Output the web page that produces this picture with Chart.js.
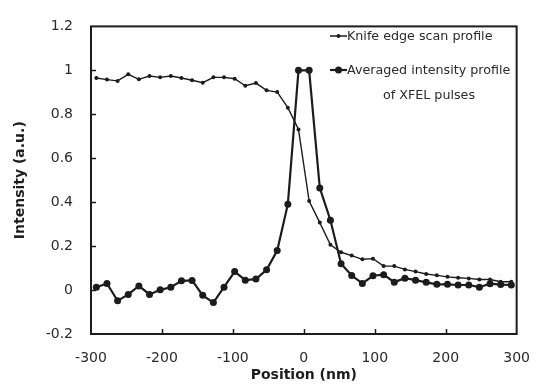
<!DOCTYPE html>
<html>
<head>
<meta charset="utf-8">
<script src="https://cdn.jsdelivr.net/npm/chart.js@4/dist/chart.umd.min.js"></script>
<style>
  html, body { margin: 0; padding: 0; background: #fff; }
  #wrap { width: 546px; height: 387px; }
</style>
</head>
<body>
<div id="wrap"><canvas id="chart" width="546" height="387"></canvas></div>
<script>
// positions (nm), shared by both series
let positions = [-292.5, -277.5, -262.5, -247.5, -232.5, -217.5, -202.5, -187.5, -172.5, -157.5,
  -142.5, -127.5, -112.5, -97.5, -82.5, -67.5, -52.5, -37.5, -22.5, -7.5,
  7.5, 22.5, 37.5, 52.5, 67.5, 82.5, 97.5, 112.5, 127.5, 142.5,
  157.5, 172.5, 187.5, 202.5, 217.5, 232.5, 247.5, 262.5, 277.5, 292.5];

let knifeEdge = [0.965, 0.958, 0.952, 0.982, 0.959, 0.974, 0.968, 0.974, 0.965, 0.955,
  0.944, 0.968, 0.968, 0.962, 0.930, 0.942, 0.909, 0.901, 0.830, 0.731,
  0.405, 0.307, 0.206, 0.172, 0.157, 0.140, 0.143, 0.109, 0.109, 0.094,
  0.084, 0.073, 0.067, 0.060, 0.056, 0.053, 0.048, 0.048, 0.038, 0.038];

let xfelProfile = [0.013, 0.030, -0.049, -0.020, 0.019, -0.020, 0.001, 0.013, 0.042, 0.044,
  -0.024, -0.057, 0.013, 0.084, 0.045, 0.050, 0.092, 0.180, 0.391, 1.0,
  1.0, 0.465, 0.318, 0.120, 0.066, 0.030, 0.065, 0.070, 0.036, 0.054,
  0.045, 0.035, 0.026, 0.026, 0.023, 0.023, 0.013, 0.029, 0.025, 0.023];

let xTicks = [-300, -200, -100, 0, 100, 200, 300];
let yTicks = [-0.2, 0, 0.2, 0.4, 0.6, 0.8, 1, 1.2];
let yTickLabels = ["-0.2", "0", "0.2", "0.4", "0.6", "0.8", "1", "1.2"];

const ink = "#1c1c1c";
const textColor = "#2a2a2a";

function toPoints(xs, ys) {
  let pts = [];
  for (let i = 0; i < xs.length; i++) {
    pts.push({x: xs[i], y: ys[i]});
  }
  return pts;
}

// frame + inward tick marks
const framePlugin = {
  id: "frame",
  afterDatasetsDraw(chart) {
    const ctx = chart.ctx;
    const a = chart.chartArea;
    const xs = chart.scales.x;
    const ys = chart.scales.y;
    ctx.save();
    ctx.strokeStyle = ink;
    ctx.lineWidth = 2;
    ctx.strokeRect(a.left, a.top, a.right - a.left, a.bottom - a.top);
    ctx.lineWidth = 1.5;
    ctx.beginPath();
    for (let i = 1; i < xTicks.length - 1; i++) {
      let px = Math.round(xs.getPixelForValue(xTicks[i])) + 0.5;
      ctx.moveTo(px, a.bottom);
      ctx.lineTo(px, a.bottom - 5);
    }
    for (let i = 1; i < yTicks.length - 1; i++) {
      let py = Math.round(ys.getPixelForValue(yTicks[i])) + 0.5;
      ctx.moveTo(a.left, py);
      ctx.lineTo(a.left + 5, py);
    }
    ctx.stroke();
    ctx.restore();
  }
};

// legend drawn inside the plot, upper right
const legendPlugin = {
  id: "insideLegend",
  afterDraw(chart) {
    const ctx = chart.ctx;
    ctx.save();
    ctx.font = "12.7px 'DejaVu Sans', Verdana, sans-serif";
    ctx.fillStyle = textColor;
    ctx.textBaseline = "middle";
    ctx.strokeStyle = ink;

    // knife edge
    ctx.lineWidth = 1.5;
    ctx.beginPath();
    ctx.moveTo(330, 36);
    ctx.lineTo(347, 36);
    ctx.stroke();
    ctx.fillStyle = ink;
    ctx.beginPath();
    ctx.arc(338.5, 36, 2, 0, Math.PI * 2);
    ctx.fill();
    ctx.fillStyle = textColor;
    ctx.textAlign = "left";
    ctx.fillText("Knife edge scan profile", 347, 37);

    // averaged profile
    ctx.lineWidth = 2.2;
    ctx.beginPath();
    ctx.moveTo(330, 70);
    ctx.lineTo(347, 70);
    ctx.stroke();
    ctx.fillStyle = ink;
    ctx.beginPath();
    ctx.arc(338.5, 70, 3.5, 0, Math.PI * 2);
    ctx.fill();
    ctx.fillStyle = textColor;
    ctx.fillText("Averaged intensity profile", 347, 71);
    ctx.textAlign = "center";
    ctx.fillText("of XFEL pulses", 429, 96);
    ctx.restore();
  }
};

new Chart(document.getElementById("chart"), {
  type: "line",
  data: {
    datasets: [
      {
        label: "Knife edge scan profile",
        data: toPoints(positions, knifeEdge),
        borderColor: ink,
        backgroundColor: ink,
        borderWidth: 1.4,
        pointRadius: 2,
        pointBorderWidth: 0,
        tension: 0
      },
      {
        label: "Averaged intensity profile of XFEL pulses",
        data: toPoints(positions, xfelProfile),
        borderColor: ink,
        backgroundColor: ink,
        borderWidth: 2.2,
        pointRadius: 3.5,
        pointBorderWidth: 0,
        tension: 0
      }
    ]
  },
  options: {
    responsive: false,
    animation: false,
    layout: { padding: { left: 12, right: 19, top: 18, bottom: 3 } },
    plugins: {
      legend: { display: false },
      tooltip: { enabled: false }
    },
    scales: {
      x: {
        type: "linear",
        min: -300,
        max: 300,
        afterBuildTicks(scale) {
          scale.ticks = xTicks.map(v => ({value: v}));
        },
        afterFit(scale) { scale.height = 387 - 3 - 334; },
        grid: { display: false, drawTicks: false },
        border: { display: false },
        ticks: {
          padding: 16,
          color: textColor,
          font: { family: "'DejaVu Sans', Verdana, sans-serif", size: 14 },
          maxRotation: 0
        },
        title: {
          display: true,
          text: "Position (nm)",
          color: ink,
          padding: { top: 0, bottom: 0 },
          font: { family: "'DejaVu Sans', Verdana, sans-serif", size: 14, weight: "bold" }
        }
      },
      y: {
        min: -0.2,
        max: 1.2,
        afterBuildTicks(scale) {
          scale.ticks = yTicks.map(v => ({value: v}));
        },
        afterFit(scale) { scale.width = 91 - 12; },
        grid: { display: false, drawTicks: false },
        border: { display: false },
        ticks: {
          padding: 18,
          color: textColor,
          font: { family: "'DejaVu Sans', Verdana, sans-serif", size: 14 },
          callback: function(value, index) { return yTickLabels[index]; }
        },
        title: {
          display: true,
          text: "Intensity (a.u.)",
          color: ink,
          padding: { top: 0, bottom: 0 },
          font: { family: "'DejaVu Sans', Verdana, sans-serif", size: 14, weight: "bold" }
        }
      }
    }
  },
  plugins: [framePlugin, legendPlugin]
});
</script>
</body>
</html>
